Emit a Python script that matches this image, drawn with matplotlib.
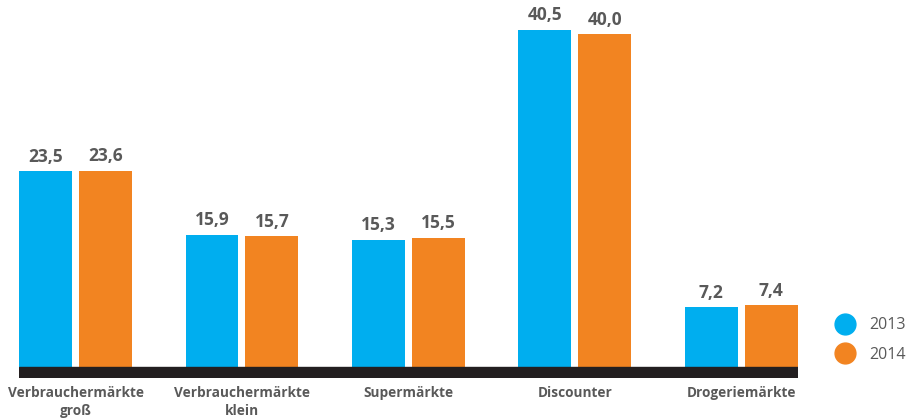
import matplotlib
matplotlib.use("Agg")
import matplotlib.pyplot as plt
from matplotlib.lines import Line2D
import numpy as np

# categories and values (share in %)
categories = ["Verbrauchermärkte\ngroß", "Verbrauchermärkte\nklein", "Supermärkte",
              "Discounter", "Drogeriemärkte"]
values_2013 = [23.5, 15.9, 15.3, 40.5, 7.2]
values_2014 = [23.6, 15.7, 15.5, 40.0, 7.4]
years = ["2013", "2014"]

blue = "#00AEEF"
orange = "#F28421"
grey = "#595959"

plt.rcParams['font.family'] = ['Open Sans', 'DejaVu Sans']

fig = plt.figure(figsize=(9.11, 4.19), dpi=100)
ax = fig.add_axes([19 / 911, 41 / 419, 779 / 911, 378 / 419])

x = np.arange(len(categories))
w = 0.318
off = 0.18

b1 = ax.bar(x - off, values_2013, w, color=blue, zorder=2)
b2 = ax.bar(x + off, values_2014, w, color=orange, zorder=2)

# value labels above each bar, German decimal comma
for bars, vals in ((b1, values_2013), (b2, values_2014)):
    for rect, v in zip(bars, vals):
        ax.annotate(f"{v:.1f}".replace(".", ","),
                    (rect.get_x() + rect.get_width() / 2, v),
                    xytext=(0, 4), textcoords="offset points",
                    ha="center", va="bottom", fontsize=12.5,
                    fontweight="bold", color=grey)

# thick black base line
base = 11 / 8.32
ax.axhspan(-base, 0, color="#231F20", zorder=3)

ax.set_xlim(-0.34, 4.342)
ax.set_ylim(-base, 367 / 8.32)
ax.set_xticks(x)
ax.set_xticklabels(categories, fontsize=9.8, fontweight="bold", color=grey,
                   linespacing=1.35)
ax.tick_params(axis="x", length=0, pad=6)
ax.set_yticks([])
for s in ax.spines.values():
    s.set_visible(False)

handles = [Line2D([], [], marker="o", linestyle="", markersize=15,
                  markerfacecolor=c, markeredgecolor=c) for c in (blue, orange)]
fig.legend(handles, years, loc="center left", bbox_to_anchor=(821 / 911, 79 / 419),
           frameon=False, fontsize=11.5, labelcolor=grey, handletextpad=0.9,
           labelspacing=0.85, handlelength=1.2)

fig.savefig("out.png", dpi=100)
